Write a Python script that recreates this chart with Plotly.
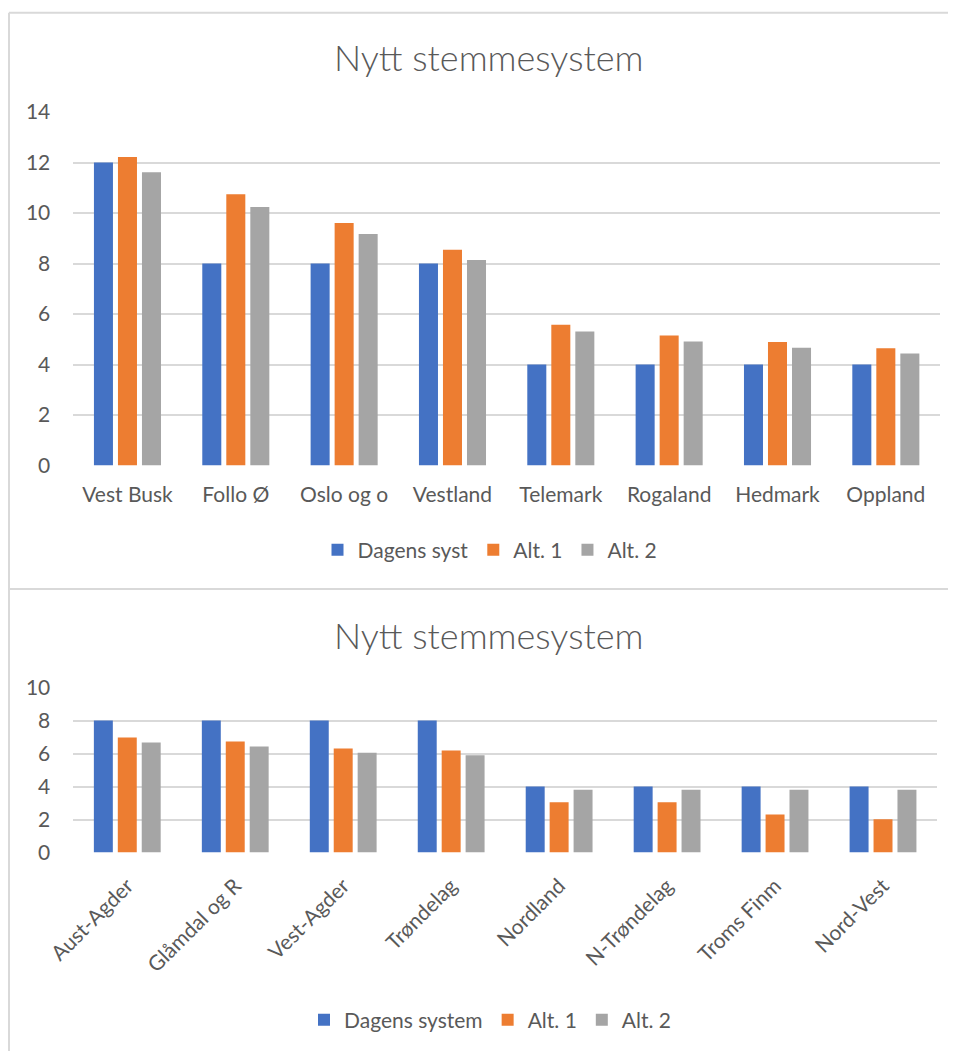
import plotly.graph_objects as go

# ---- data ----
top_categories = ["Vest Busk", "Follo Ø", "Oslo og o", "Vestland", "Telemark", "Rogaland", "Hedmark", "Oppland"]
top_dagens = [12, 8, 8, 8, 4, 4, 4, 4]
top_alt1 = [12.22, 10.74, 9.60, 8.54, 5.57, 5.15, 4.89, 4.64]
top_alt2 = [11.61, 10.24, 9.17, 8.14, 5.31, 4.91, 4.66, 4.44]

bot_categories = ["Aust-Agder", "Glåmdal og R", "Vest-Agder", "Trøndelag", "Nordland", "N-Trøndelag", "Troms Finm", "Nord-Vest"]
bot_dagens = [8, 8, 8, 8, 4, 4, 4, 4]
bot_alt1 = [6.97, 6.73, 6.30, 6.18, 3.05, 3.05, 2.30, 2.02]
bot_alt2 = [6.67, 6.42, 6.04, 5.90, 3.80, 3.80, 3.80, 3.80]

top_names = ["Dagens syst", "Alt. 1", "Alt. 2"]
bot_names = ["Dagens system", "Alt. 1", "Alt. 2"]
title_text = "Nytt stemmesystem"

colors = ["#4472C4", "#ED7D31", "#A5A5A5"]
OFF = 8  # page body margin
W, H = 956 - OFF, 1051 - OFF
FONT = "Lato"
TXT = "#595959"
GRID = "#D9D9D9"

def px(x):
    return (x - OFF) / W

def py(y):
    return 1 - (y - OFF) / H

fig = go.Figure()

for vals, name, c in zip([top_dagens, top_alt1, top_alt2], top_names, colors):
    fig.add_trace(go.Bar(x=top_categories, y=vals, name=name, marker=dict(color=c, line=dict(width=0)),
                         xaxis="x", yaxis="y", legend="legend"))
for vals, name, c in zip([bot_dagens, bot_alt1, bot_alt2], bot_names, colors):
    fig.add_trace(go.Bar(x=bot_categories, y=vals, name=name, marker=dict(color=c, line=dict(width=0)),
                         xaxis="x2", yaxis="y2", legend="legend2"))

axis_common = dict(showline=False, zeroline=False, ticks="", automargin=False,
                   tickfont=dict(family=FONT, size=21, color=TXT))

fig.update_layout(
    template="none",
    width=W, height=H,
    margin=dict(l=0, r=0, t=0, b=0, pad=0),
    paper_bgcolor="white", plot_bgcolor="white",
    barmode="group", bargap=0.335, bargroupgap=0.208,
    font=dict(family=FONT, color=TXT),
    xaxis=dict(domain=[px(73.3), px(940)], anchor="y", showgrid=False, ticklabelstandoff=14, **axis_common),
    yaxis=dict(domain=[py(465.5), py(112)], anchor="x", range=[0, 14], dtick=2, showgrid=True,
               gridcolor=GRID, gridwidth=2, ticklabelstandoff=22, **axis_common),
    xaxis2=dict(domain=[px(73.3), px(937)], anchor="y2", showgrid=False, tickangle=-45, ticklabelstandoff=16, **axis_common),
    yaxis2=dict(domain=[py(852.5), py(687.5)], anchor="x2", range=[0, 10], dtick=2, showgrid=True,
                gridcolor=GRID, gridwidth=2, ticklabelstandoff=22, **axis_common),
    legend=dict(orientation="h", x=px(490), y=py(550), xanchor="center", yanchor="middle",
                font=dict(family=FONT, size=21, color=TXT), itemwidth=30, bgcolor="rgba(0,0,0,0)"),
    legend2=dict(orientation="h", x=px(490), y=py(1020), xanchor="center", yanchor="middle",
                 font=dict(family=FONT, size=21, color=TXT), itemwidth=30, bgcolor="rgba(0,0,0,0)"),
    annotations=[
        dict(text=title_text, x=px(489), y=py(57), xref="paper", yref="paper", showarrow=False,
             xanchor="center", yanchor="middle", font=dict(family=FONT, size=36, color=TXT, weight=300)),
        dict(text=title_text, x=px(489), y=py(635), xref="paper", yref="paper", showarrow=False,
             xanchor="center", yanchor="middle", font=dict(family=FONT, size=36, color=TXT, weight=300)),
    ],
    shapes=[
        dict(type="line", xref="paper", yref="paper", x0=px(9), x1=1, y0=py(12.7), y1=py(12.7),
             line=dict(color=GRID, width=2)),
        dict(type="line", xref="paper", yref="paper", x0=px(9), x1=px(9), y0=py(12.7), y1=0,
             line=dict(color=GRID, width=2)),
        dict(type="line", xref="paper", yref="paper", x0=px(9), x1=1, y0=py(589), y1=py(589),
             line=dict(color=GRID, width=2)),
    ],
)

fig.write_html("out.html")
